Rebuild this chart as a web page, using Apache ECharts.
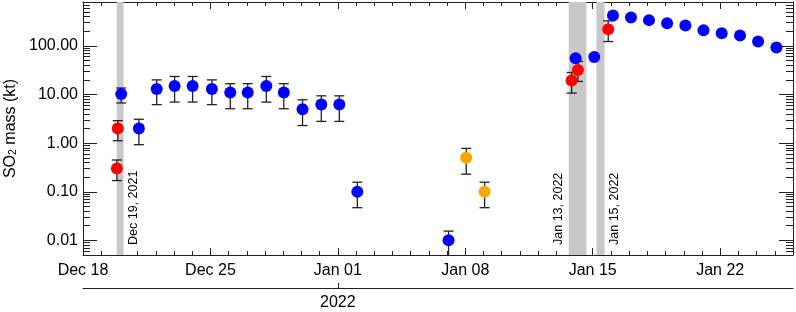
<!DOCTYPE html>
<html>
<head>
<meta charset="utf-8">
<script src="https://cdn.jsdelivr.net/npm/echarts@6/dist/echarts.min.js"></script>
<style>
html, body { margin: 0; padding: 0; background: #fff; }
#chart { width: 796px; height: 312px; }
</style>
</head>
<body>
<div id="chart"></div>
<script>
// SO2 mass, Dec 2021 - Jan 2022 (local time strings, "YYYY-MM-DD HH:mm")
const blueTimes = [
    '2021-12-20 02:24', '2021-12-21 01:40', '2021-12-22 01:10', '2021-12-23 00:45',
    '2021-12-24 00:30', '2021-12-25 01:55', '2021-12-26 02:10', '2021-12-27 01:10',
    '2021-12-28 01:40', '2021-12-29 00:45', '2021-12-30 01:25', '2021-12-31 02:10',
    '2022-01-01 01:55', '2022-01-02 01:40', '2022-01-07 01:55', '2022-01-14 01:25',
    '2022-01-15 02:00', '2022-01-16 02:40', '2022-01-17 02:25', '2022-01-18 02:10',
    '2022-01-19 02:00', '2022-01-20 02:10', '2022-01-21 02:00', '2022-01-22 02:00',
    '2022-01-23 02:10', '2022-01-24 02:00', '2022-01-25 02:10'
];
const blueValues = [10.2, 2.0, 13, 15, 15, 13, 11, 11, 15, 11, 5.0, 6.2, 6.2, 0.10, 0.010,
    56, 59, 421, 383, 339, 294, 262, 211, 183, 164, 123, 93];
const blueLow = [6.7, 0.93, 6.2, 7.0, 7.0, 6.2, 5.1, 5.1, 7.0, 5.1, 2.3, 2.8, 2.8, 0.047, 0.004,
    null, null, null, null, null, null, null, null, null, null, null, null];
const blueHigh = [13.6, 3.1, 20, 23.5, 23.5, 20, 16.7, 16.7, 23.5, 16.7, 7.8, 9.4, 9.4, 0.157, 0.0155,
    null, null, null, null, null, null, null, null, null, null, null, null];

const redTimes = ['2021-12-19 21:50', '2021-12-19 20:40', '2022-01-13 20:10', '2022-01-14 04:30', '2022-01-15 20:24'];
const redValues = [2.0, 0.30, 19.5, 32, 221];
const redLow = [1.12, 0.17, 10.7, 18.6, 123];
const redHigh = [2.9, 0.45, 28.4, 48, 327];

const orangeTimes = ['2022-01-08 01:12', '2022-01-09 01:26'];
const orangeValues = [0.50, 0.10];
const orangeLow = [0.23, 0.047];
const orangeHigh = [0.78, 0.157];

// shaded eruption periods
const bandStart = ['2021-12-19 20:34', '2022-01-13 16:19', '2022-01-15 04:48'];
const bandEnd = ['2021-12-20 05:24', '2022-01-14 15:36', '2022-01-15 15:36'];
const bandLabels = ['Dec 19, 2021', 'Jan 13, 2022', 'Jan 15, 2022'];

// axes
const xMinStr = '2021-12-18 00:00';
const xMaxStr = '2022-01-26 00:00';
const weekTickStr = ['2021-12-18', '2021-12-25', '2022-01-01', '2022-01-08', '2022-01-15', '2022-01-22'];
const yearTickStr = ['2022-01-01'];
const decadeTicks = [0.01, 0.1, 1, 10, 100];
const yMin = 0.005;
const yMax = 800;

const MONTHS = ['Jan', 'Feb', 'Mar', 'Apr', 'May', 'Jun', 'Jul', 'Aug', 'Sep', 'Oct', 'Nov', 'Dec'];
const font = 'Liberation Sans, Arial, Helvetica, sans-serif';
const axisColor = '#222';

function parseT(s) {
    const m = s.match(/(\d+)-(\d+)-(\d+)(?:\s+(\d+):(\d+))?/);
    return new Date(+m[1], +m[2] - 1, +m[3], +(m[4] || 0), +(m[5] || 0)).getTime();
}

function dayLabel(v) {
    const d = new Date(v);
    return MONTHS[d.getMonth()] + ' ' + String(d.getDate()).padStart(2, '0');
}

const xMin = parseT(xMinStr);
const xMax = parseT(xMaxStr);
const weekTicks = weekTickStr.map(parseT);
const yearTicks = yearTickStr.map(parseT);

const dayTicks = [];
for (let d = new Date(xMin); d.getTime() <= xMax; d.setDate(d.getDate() + 1)) {
    dayTicks.push(d.getTime());
}

const minorYTicks = [];
for (let n = -3; n <= 2; n++) {
    for (let k = 2; k <= 9; k++) {
        const v = Number((k * Math.pow(10, n)).toPrecision(6));
        if (v > yMin && v < yMax) minorYTicks.push(v);
    }
}

// x is a plain value axis holding millisecond timestamps
function xAxisOf(position, ticks, tickLen, withLabels, extra) {
    return Object.assign({
        type: 'value',
        position: position,
        min: xMin,
        max: xMax,
        scale: true,
        axisLine: { show: true, onZero: false, lineStyle: { color: axisColor, width: 1 } },
        axisTick: { show: true, inside: true, length: tickLen, customValues: ticks, lineStyle: { color: axisColor, width: 1 } },
        axisLabel: withLabels ? {
            show: true, customValues: ticks, formatter: dayLabel,
            color: '#000', fontSize: 16, fontFamily: font, margin: 8
        } : { show: false },
        splitLine: { show: false }
    }, extra || {});
}

function yAxisOf(position, ticks, tickLen, withLabels, extra) {
    return Object.assign({
        type: 'log',
        logBase: 10,
        position: position,
        min: yMin,
        max: yMax,
        axisLine: { show: true, onZero: false, lineStyle: { color: axisColor, width: 1 } },
        axisTick: { show: true, inside: true, length: tickLen, customValues: ticks, lineStyle: { color: axisColor, width: 1 } },
        axisLabel: withLabels ? {
            show: true, customValues: ticks, formatter: v => Number(v).toFixed(2),
            color: '#000', fontSize: 16, fontFamily: font, margin: 5
        } : { show: false },
        splitLine: { show: false }
    }, extra || {});
}

function errorBars(times, low, high) {
    const data = [];
    times.forEach((t, i) => {
        if (low[i] != null) data.push([parseT(t), low[i], high[i]]);
    });
    return {
        type: 'custom',
        xAxisIndex: 0,
        yAxisIndex: 0,
        silent: true,
        clip: true,
        z: 2,
        encode: { x: 0, y: [1, 2] },
        data: data,
        renderItem: function (params, api) {
            const lo = api.coord([api.value(0), api.value(1)]);
            const hi = api.coord([api.value(0), api.value(2)]);
            const w = 5;
            const st = { stroke: '#222', lineWidth: 1.3 };
            return {
                type: 'group',
                children: [
                    { type: 'line', shape: { x1: lo[0], y1: lo[1], x2: hi[0], y2: hi[1] }, style: st },
                    { type: 'line', shape: { x1: hi[0] - w, y1: hi[1], x2: hi[0] + w, y2: hi[1] }, style: st },
                    { type: 'line', shape: { x1: lo[0] - w, y1: lo[1], x2: lo[0] + w, y2: lo[1] }, style: st }
                ]
            };
        }
    };
}

function dots(times, values, color) {
    return {
        type: 'scatter',
        xAxisIndex: 0,
        yAxisIndex: 0,
        symbol: 'circle',
        symbolSize: 12,
        silent: true,
        z: 3,
        itemStyle: { color: color, opacity: 1 },
        data: times.map((t, i) => [parseT(t), values[i]])
    };
}

const bandSeries = {
    type: 'custom',
    xAxisIndex: 0,
    yAxisIndex: 0,
    silent: true,
    z: 1,
    encode: { x: [0, 1] },
    data: bandStart.map((s, i) => [parseT(s), parseT(bandEnd[i]), i]),
    renderItem: function (params, api) {
        const cs = params.coordSys;
        const x0 = api.coord([api.value(0), 1])[0];
        const x1 = api.coord([api.value(1), 1])[0];
        const idx = api.value(2);
        // the Jan 13 label sits left of its band, the others on the right
        const tx = idx === 1 ? x0 - 10 : x1 + 10;
        return {
            type: 'group',
            children: [
                { type: 'rect', shape: { x: x0, y: cs.y, width: x1 - x0, height: cs.height }, style: { fill: '#c8c8c8' } },
                {
                    type: 'text', x: tx, y: cs.y + cs.height - 10, rotation: Math.PI / 2,
                    style: {
                        text: bandLabels[idx], fill: '#000', fontSize: 12.5, fontFamily: font,
                        align: 'left', verticalAlign: 'middle'
                    }
                }
            ]
        };
    }
};

const chart = echarts.init(document.getElementById('chart'), null, { renderer: 'canvas' });
chart.setOption({
    animation: false,
    backgroundColor: '#fff',
    grid: { left: 83, right: 3, top: 2, bottom: 57, containLabel: false, outerBoundsMode: 'none' },
    xAxis: [
        xAxisOf('bottom', weekTicks, 7, true),
        xAxisOf('top', weekTicks, 7, false),
        xAxisOf('bottom', dayTicks, 4, false, { axisLine: { show: false } }),
        xAxisOf('top', dayTicks, 4, false, { axisLine: { show: false } }),
        xAxisOf('bottom', yearTicks, 5, false, {
            offset: 33,
            axisLabel: {
                show: true, customValues: yearTicks, formatter: v => String(new Date(v).getFullYear()),
                color: '#000', fontSize: 16, fontFamily: font, margin: 7
            }
        })
    ],
    yAxis: [
        yAxisOf('left', decadeTicks, 14, true, {
            name: '{t|SO}{s|2}{t| mass (kt)}',
            nameLocation: 'middle',
            nameRotate: 90,
            nameGap: 62,
            nameTextStyle: {
                color: '#000',
                rich: {
                    t: { fontSize: 16, fontFamily: font, color: '#000' },
                    s: { fontSize: 10.5, fontFamily: font, color: '#000', verticalAlign: 'bottom', lineHeight: 8 }
                }
            }
        }),
        yAxisOf('left', minorYTicks, 7, false, { axisLine: { show: false } }),
        yAxisOf('right', decadeTicks, 14, false),
        yAxisOf('right', minorYTicks, 7, false, { axisLine: { show: false } })
    ],
    series: [
        bandSeries,
        errorBars(blueTimes, blueLow, blueHigh),
        errorBars(redTimes, redLow, redHigh),
        errorBars(orangeTimes, orangeLow, orangeHigh),
        dots(blueTimes, blueValues, '#0000ff'),
        dots(redTimes, redValues, '#ff0000'),
        dots(orangeTimes, orangeValues, '#ffa500')
    ]
});
</script>
</body>
</html>
